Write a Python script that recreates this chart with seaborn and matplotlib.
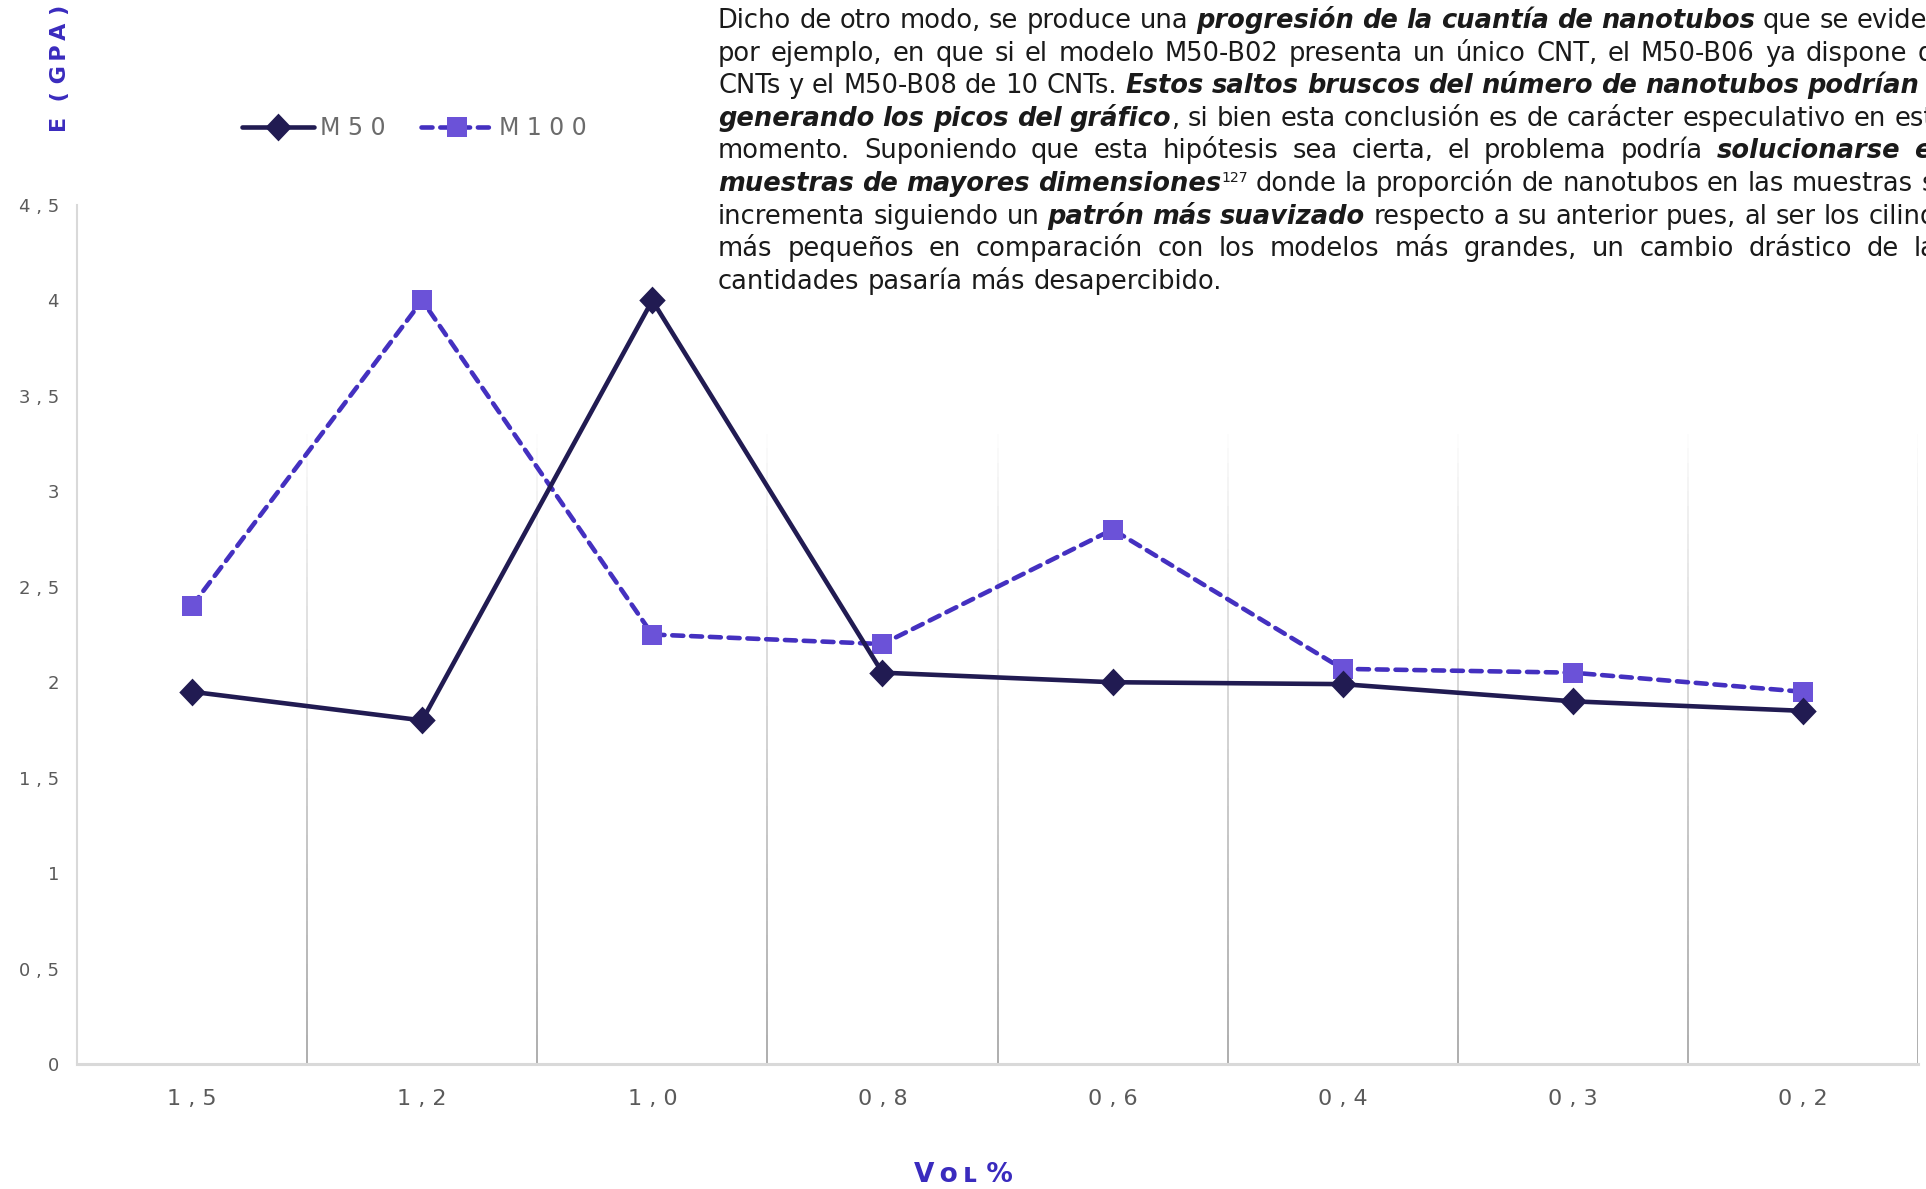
import numpy as np
import pandas as pd
import matplotlib
matplotlib.use("Agg")
import matplotlib.pyplot as plt
import seaborn as sns
from matplotlib.collections import LineCollection

# ---- data -----------------------------------------------------------------
vol_labels = ["1,5", "1,2", "1,0", "0,8", "0,6", "0,4", "0,3", "0,2"]
series_names = ["M50", "M100"]
m50_values = [1.95, 1.80, 4.00, 2.05, 2.00, 1.99, 1.90, 1.85]
m100_values = [2.40, 4.00, 2.25, 2.20, 2.80, 2.07, 2.05, 1.95]
y_ticks = [0, 0.5, 1, 1.5, 2, 2.5, 3, 3.5, 4, 4.5]

# paragraph printed above the chart: (text, style) with n=normal, b=bold italic, s=superscript
para_lines = [
    [("Dicho de otro modo, se produce una ", "n"), ("progresión de la cuantía de nanotubos", "b"),
     (" que se evidencia", "n")],
    [("por ejemplo, en que si el modelo M50-B02 presenta un único CNT, el M50-B06 ya dispone de", "n")],
    [("CNTs y el M50-B08 de 10 CNTs. ", "n"),
     ("Estos saltos bruscos del número de nanotubos podrían estar", "b")],
    [("generando los picos del gráfico", "b"),
     (", si bien esta conclusión es de carácter especulativo en este", "n")],
    [("momento. Suponiendo que esta hipótesis sea cierta, el problema podría ", "n"),
     ("solucionarse en", "b")],
    [("muestras de mayores dimensiones", "b"), ("127", "s"),
     (" donde la proporción de nanotubos en las muestras se", "n")],
    [("incrementa siguiendo un ", "n"), ("patrón más suavizado", "b"),
     (" respecto a su anterior pues, al ser los cilindros", "n")],
    [("más pequeños en comparación con los modelos más grandes, un cambio drástico de las", "n")],
    [("cantidades pasaría más desapercibido.", "n")],
]

# ---- styling ----------------------------------------------------------------
sns.set_theme(style="white")
plt.rcParams["font.family"] = ["DejaVu Sans"]

C_M50 = "#211b52"
C_M100_LINE = "#4430c0"
C_M100_MARK = "#6b52d8"
C_LABEL = "#3a2bbe"
C_TICK = "#5a5a5a"

W, H, DPI = 1926, 1189, 100
fig = plt.figure(figsize=(W / DPI, H / DPI), dpi=DPI)
ax = fig.add_axes([77 / W, 1 - 1064 / H, (1918 - 77) / W, (1064 - 205) / H])

df = pd.DataFrame({
    "vol": vol_labels * 2,
    "E": m50_values + m100_values,
    "serie": [series_names[0]] * len(vol_labels) + [series_names[1]] * len(vol_labels),
})

diamond = [(-1, 0), (0, 1.05), (1, 0), (0, -1.05)]

sns.lineplot(data=df[df.serie == "M50"], x="vol", y="E", ax=ax, sort=False, estimator=None,
             color=C_M50, lw=3.3, marker=diamond, markersize=20,
             markerfacecolor=C_M50, markeredgecolor=C_M50, markeredgewidth=0,
             label="M50", zorder=4)
sns.lineplot(data=df[df.serie == "M100"], x="vol", y="E", ax=ax, sort=False, estimator=None,
             color=C_M100_LINE, lw=3.3, linestyle=(0, (2.4, 1.7)), dash_capstyle="round",
             marker="s", markersize=15,
             markerfacecolor=C_M100_MARK, markeredgecolor=C_M100_MARK, markeredgewidth=0,
             label="M100", zorder=3)

ax.set_xlim(-0.5, len(vol_labels) - 0.5)
ax.set_ylim(0, 4.5)

# vertical separators between categories, fading upward
bounds = np.arange(len(vol_labels)) + 0.5
ys = np.linspace(0, 3.3, 45)
segs, cols = [], []
for xb in bounds:
    for y0, y1 in zip(ys[:-1], ys[1:]):
        segs.append([(xb, y0), (xb, y1)])
        a = 0.85 * (1 - (y0 + y1) / 2 / 3.3) ** 0.8
        cols.append((0.52, 0.52, 0.52, a))
ax.add_collection(LineCollection(segs, colors=cols, linewidths=1.1, zorder=0.5))

# spines
for s in ["top", "right"]:
    ax.spines[s].set_visible(False)
ax.spines["left"].set_color("#d9d9d9")
ax.spines["left"].set_linewidth(1.5)
ax.spines["bottom"].set_color("#d9d9d9")
ax.spines["bottom"].set_linewidth(2.2)
ax.grid(False)

# ticks
ax.set_yticks(y_ticks)
ax.set_yticklabels([(f"{v:g}".replace(".", " , ")) for v in y_ticks])
ax.set_xticks(range(len(vol_labels)))
ax.set_xticklabels([v.replace(",", " , ") for v in vol_labels])
ax.tick_params(axis="y", length=0, pad=13, labelsize=13, labelcolor=C_TICK)
ax.tick_params(axis="x", length=0, pad=18, labelsize=16, labelcolor=C_TICK)
ax.set_xlabel("")
ax.set_ylabel("")

# axis titles
fig.text(60 / W, 1 - 68 / H, "E  ( G\u2009P\u2009A )", rotation=90,
         ha="center", va="center", fontsize=16, fontweight="bold", color=C_LABEL)
fig.text(963 / W, 1 - 1175 / H, "V\u2009ᴏ\u2009ʟ %", ha="center", va="center",
         fontsize=19, fontweight="bold", color=C_LABEL)

# legend
handles, labels = ax.get_legend_handles_labels()
ax.legend(handles, [" ".join(l) for l in labels], loc="center left",
          bbox_to_anchor=(242 / W, 1 - 128 / H), bbox_transform=fig.transFigure,
          frameon=False, ncol=2, handlelength=3.05, handletextpad=0.26, columnspacing=1.5,
          borderpad=0, borderaxespad=0, fontsize=17, labelcolor="#6b6b6b")

# ---- justified paragraph ---------------------------------------------------------
renderer = fig.canvas.get_renderer()
PARA_SIZE = 18.5
LEFT, RIGHT = 718, 1950
BASE0, STEP = 28, 32.6


def text_kw(style):
    if style == "b":
        return dict(fontsize=PARA_SIZE, fontweight="bold", fontstyle="italic")
    if style == "s":
        return dict(fontsize=PARA_SIZE * 0.55)
    return dict(fontsize=PARA_SIZE)


def measure(txt, style):
    t = fig.text(0, 0, txt, transform=None, **text_kw(style))
    w = t.get_window_extent(renderer).width
    t.remove()
    return w


space_w = measure("a a", "n") - measure("aa", "n")

for li, line in enumerate(para_lines):
    # group pieces into words; a piece that follows text without a space sticks to that word
    units = []
    prev_txt = ""
    for txt, style in line:
        parts = txt.split(" ")
        for k, p in enumerate(parts):
            if p == "":
                continue
            glue = (k == 0 and units and not txt.startswith(" ")
                    and not prev_txt.endswith(" "))
            if glue:
                units[-1].append((p, style))
            else:
                units.append([(p, style)])
        prev_txt = txt
    widths = [[measure(p, s) for p, s in u] for u in units]
    total = sum(sum(w) for w in widths)
    last = li == len(para_lines) - 1
    gap = space_w if last or len(units) < 2 else max(space_w, (RIGHT - LEFT - total) / (len(units) - 1))
    x = LEFT
    yb = H - (BASE0 + li * STEP)
    for u, ws in zip(units, widths):
        for (p, s), w in zip(u, ws):
            dy = 9 if s == "s" else 0
            fig.text(x, yb + dy, p, transform=None, ha="left", va="baseline",
                     color="#1a1a1a", **text_kw(s))
            x += w
        x += gap

fig.savefig("out.png", dpi=DPI)
